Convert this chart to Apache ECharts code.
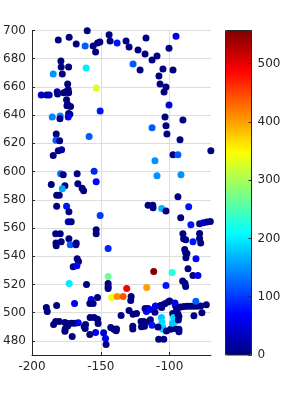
<!DOCTYPE html>
<html>
<head>
<meta charset="utf-8">
<script src="https://cdn.jsdelivr.net/npm/echarts@6/dist/echarts.min.js"></script>
<style>html,body{margin:0;padding:0;background:#fff}#c{width:300px;height:400px}</style>
</head>
<body>
<div id="c"></div>
<script>
// ---- data ----
const xs = [-180.9,-173.0,-159.9,-167.9,-161.4,-155.6,-152.4,-150.7,-153.8,-144.0,-143.3,-138.2,-131.7,-129.5,-123.0,-117.9,-117.2,-126.6,-121.5,-112.8,-109.2,-100.5,-95.4,-104.9,-97.6,-107.8,-107.0,-102.7,-104.1,-100.5,-103.4,-90.4,-112.8,-102.7,-102.0,-92.5,-70.1,-97.6,-94.0,-110.7,-109.2,-91.8,-94.0,-179.0,-178.8,-173.4,-178.0,-184.6,-160.7,-153.4,-174.1,-173.7,-173.4,-175.4,-177.0,-181.7,-181.4,-193.3,-189.3,-187.5,-174.9,-174.1,-172.0,-174.6,-173.4,-172.5,-150.5,-185.3,-179.5,-179.7,-173.7,-182.4,-182.6,-179.9,-158.5,-180.9,-178.5,-184.6,-179.2,-177.3,-167.2,-154.9,-153.4,-186.0,-176.1,-178.0,-166.7,-163.6,-162.5,-182.1,-180.2,-182.1,-174.9,-173.2,-150.5,-173.7,-171.5,-182.8,-179.5,-173.2,-178.8,-182.6,-182.4,-172.2,-167.9,-168.1,-153.4,-153.4,-144.7,-167.2,-166.2,-170.1,-167.4,-173.0,-160.4,-144.7,-144.7,-144.7,-144.7,-131.2,-142.2,-138.2,-133.8,-116.7,-128.3,-128.0,-152.4,-157.0,-158.0,-155.6,-189.6,-188.9,-182.1,-169.1,-129.5,-135.3,-126.6,-124.1,-117.9,-116.9,-184.3,-182.8,-180.2,-176.1,-173.7,-171.2,-168.8,-166.4,-174.1,-175.9,-176.1,-161.1,-162.1,-161.4,-157.8,-154.9,-152.4,-152.0,-153.8,-158.0,-170.8,-148.0,-146.6,-146.2,-142.8,-140.6,-138.6,-138.9,-126.8,-126.8,-118.8,-115.0,-120.8,-114.0,-112.8,-115.7,-114.5,-110.7,-120.5,-118.3,-108.0,-104.3,-106.0,-105.6,-105.1,-105.1,-108.5,-107.2,-106.0,-105.8,-110.4,-101.2,-100.0,-102.4,-99.3,-96.4,-93.3,-93.3,-97.8,-97.1,-96.4,-98.0,-95.9,-95.1,-94.7,-94.0,-93.3,-93.7,-96.2,-92.0,-89.6,-87.2,-84.8,-82.4,-80.0,-77.5,-73.4,-81.0,-82.4,-76.6,-115.7,-112.3,-112.1,-105.8,-102.7,-86.2,-92.0,-84.6,-78.3,-75.6,-73.0,-70.5,-90.4,-89.9,-88.4,-83.1,-78.3,-78.3,-77.5,-89.1,-88.4,-87.5,-88.2,-80.9,-86.7,-83.1,-79.5,-90.6,-88.9,-88.4,-111.6,-98.3,-102.7,-103.6];
const ys = [693.2,695.3,699.8,690.4,689.0,689.0,691.1,691.8,684.7,697.0,692.5,691.1,692.5,688.3,686.1,683.3,694.6,676.2,672.0,679.1,681.9,687.5,696.0,672.7,672.0,667.7,662.1,660.0,656.4,647.2,638.7,636.6,631.0,632.4,626.7,622.5,614.7,611.9,611.9,607.6,597.0,597.7,582.1,678.4,674.1,674.1,669.2,669.2,673.4,659.3,662.1,658.0,655.9,656.6,655.9,656.6,655.0,654.3,654.3,654.3,651.0,647.6,646.2,646.7,641.1,640.6,643.0,638.7,639.4,637.5,638.7,626.7,622.2,621.8,624.8,614.7,615.4,611.4,598.4,597.7,598.4,600.3,592.8,590.8,589.9,587.8,591.3,588.2,586.4,583.3,583.3,575.5,575.5,571.5,568.9,564.5,564.5,556.0,556.0,552.4,550.3,549.3,547.5,548.2,549.3,548.2,558.8,556.0,545.4,538.3,536.2,532.6,533.3,520.6,519.9,525.6,520.6,518.5,517.1,517.1,510.7,511.4,511.4,517.8,508.6,511.4,510.7,509.3,506.5,506.5,503.6,500.8,505.0,506.5,501.5,498.0,498.9,499.4,502.9,500.8,491.6,493.7,493.7,493.0,492.3,492.5,492.5,492.9,490.6,488.5,486.9,491.6,490.2,488.8,496.6,496.6,495.4,492.3,485.9,484.5,483.1,485.7,481.7,477.4,489.5,488.3,488.5,487.1,490.4,488.5,493.7,493.7,493.7,494.9,491.1,502.9,502.2,500.3,490.0,490.4,481.2,481.2,496.6,493.2,490.4,488.3,489.9,504.7,505.2,503.7,504.7,507.5,508.2,487.0,488.3,488.8,488.3,486.4,499.4,496.6,493.0,492.5,505.2,502.9,501.2,498.9,497.2,494.8,506.9,504.0,504.3,504.5,504.5,504.5,504.5,504.7,505.7,508.1,497.9,500.0,576.2,576.2,574.4,573.9,572.0,575.1,567.3,562.3,563.0,563.7,564.2,564.7,556.0,552.4,551.7,550.3,556.2,552.6,549.3,544.8,542.5,542.0,538.9,538.2,531.2,526.3,526.3,522.4,520.8,518.5,529.1,528.4,519.2,506.4];
const cs = [0,0,0,0,120,0,0,0,0,0,0,80,0,0,0,0,0,120,0,0,0,0,60,0,0,0,0,0,0,50,0,0,120,0,0,0,0,0,120,150,150,150,0,0,0,0,0,150,200,330,0,0,0,0,0,30,0,40,10,30,0,0,0,0,0,0,80,140,140,0,60,0,120,0,120,0,20,0,130,0,0,90,70,0,0,160,0,0,0,0,0,0,80,0,100,50,0,0,0,0,0,0,0,120,0,0,0,0,90,0,0,0,70,200,0,270,0,0,0,490,340,410,440,400,0,0,0,70,0,0,0,0,0,60,0,0,0,0,0,60,0,0,0,0,0,0,0,60,0,0,0,0,0,0,0,0,0,0,60,0,0,40,60,0,0,0,0,0,0,0,0,0,0,0,80,0,60,0,0,0,0,0,180,190,200,180,0,0,0,0,60,0,0,0,0,0,0,0,0,190,200,180,0,0,0,0,0,0,60,0,0,0,0,0,0,0,0,120,0,0,0,0,0,170,0,80,0,80,0,40,20,0,0,0,0,80,0,0,0,0,0,0,0,70,0,0,60,0,0,0,557,230,80,0];
const xTicks = [-200, -150, -100];
const yTicks = [480, 500, 520, 540, 560, 580, 600, 620, 640, 660, 680, 700];
const cTicks = [0, 100, 200, 300, 400, 500];
const cMin = 0, cMax = 557;

// ---- jet colormap (64 levels) ----
function jet(n) {
  const out = [];
  const cl = v => Math.max(0, Math.min(1, v));
  for (let i = 0; i < n; i++) {
    const t = i / (n - 1);
    const r = cl(1.5 - Math.abs(4 * t - 3));
    const g = cl(1.5 - Math.abs(4 * t - 2));
    const b = cl(1.5 - Math.abs(4 * t - 1));
    const h = v => Math.round(v * 255).toString(16).padStart(2, '0');
    out.push('#' + h(r) + h(g) + h(b));
  }
  return out;
}

const pts = xs.map((x, i) => [x, ys[i], cs[i]]);
const txt = '#262626';
const font = 'DejaVu Sans';

const chart = echarts.init(document.getElementById('c'), null, {renderer: 'canvas'});
chart.setOption({
  animation: false,
  backgroundColor: '#ffffff',
  grid: [
    {left: 32, top: 30.5, width: 179, height: 324.5},
    {left: 225.5, top: 30.5, width: 26, height: 324.5, show: true, borderColor: txt, borderWidth: 1, backgroundColor: 'transparent', z: 10}
  ],
  xAxis: [
    {type: 'value', gridIndex: 0, min: -200, max: -70,
      axisLine: {show: true, onZero: false, lineStyle: {color: txt, width: 1}},
      axisTick: {show: true, inside: true, length: 3, customValues: xTicks, lineStyle: {color: txt}},
      axisLabel: {customValues: xTicks, color: txt, fontSize: 12, fontFamily: font, margin: 6},
      splitLine: {show: true, lineStyle: {color: '#dedede', width: 1}}},
    {type: 'value', gridIndex: 1, min: 0, max: 1, show: false}
  ],
  yAxis: [
    {type: 'value', gridIndex: 0, min: 470, max: 700,
      axisLine: {show: true, onZero: false, lineStyle: {color: txt, width: 1}},
      axisTick: {show: true, inside: true, length: 3, customValues: yTicks, lineStyle: {color: txt}},
      axisLabel: {customValues: yTicks, color: txt, fontSize: 12, fontFamily: font, margin: 6},
      splitLine: {show: true, lineStyle: {color: '#dedede', width: 1}}},
    {type: 'value', gridIndex: 1, min: cMin, max: cMax, position: 'right', z: 10,
      axisLine: {show: true, onZero: false, lineStyle: {color: txt, width: 1}},
      axisTick: {show: true, inside: true, length: 3, customValues: cTicks, lineStyle: {color: txt}},
      axisLabel: {customValues: cTicks, color: txt, fontSize: 12, fontFamily: font, margin: 6},
      splitLine: {show: false}}
  ],
  visualMap: {
    type: 'continuous', min: cMin, max: cMax, dimension: 2, seriesIndex: 0,
    calculable: false, realtime: false, hoverLink: false,
    left: 225.5, top: 30.5, itemWidth: 26, itemHeight: 324.5, padding: 0,
    text: null, showLabel: false, orient: 'vertical',
    inRange: {color: jet(64)}
  },
  series: [{
    type: 'scatter', xAxisIndex: 0, yAxisIndex: 0, symbol: 'circle', symbolSize: 7,
    data: pts, itemStyle: {opacity: 1}
  }]
});
</script>
</body>
</html>
